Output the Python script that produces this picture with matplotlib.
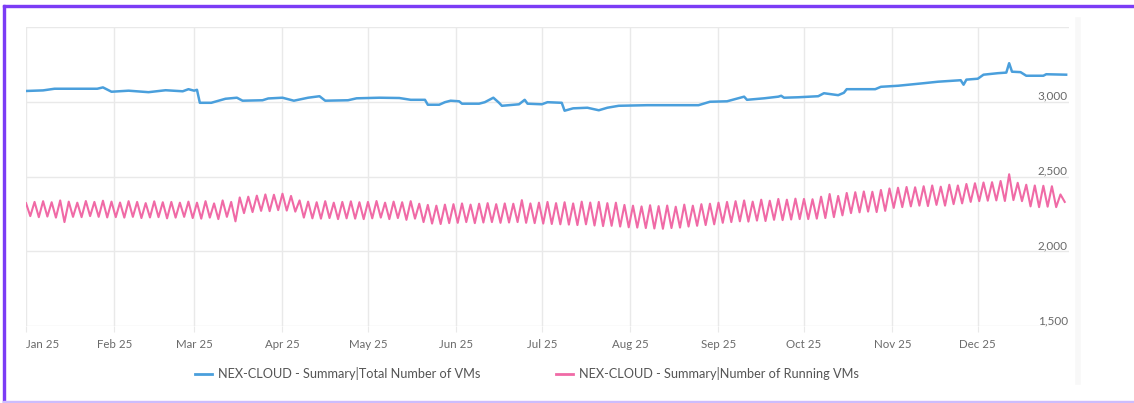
import numpy as np
import pandas as pd
import matplotlib
matplotlib.use('Agg')
import matplotlib.pyplot as plt
import matplotlib.dates as mdates
from matplotlib.patches import Rectangle
from matplotlib.lines import Line2D

plt.rcParams['font.family'] = ['Lato', 'DejaVu Sans']

# Total number of VMs - breakpoints
total_dates = ['2025-01-01', '2025-01-07', '2025-01-11', '2025-01-26', '2025-01-28', '2025-01-31',
               '2025-02-06', '2025-02-13', '2025-02-19', '2025-02-25', '2025-02-27', '2025-03-01',
               '2025-03-02', '2025-03-03', '2025-03-07', '2025-03-12', '2025-03-16', '2025-03-18',
               '2025-03-25', '2025-03-27', '2025-04-01', '2025-04-05', '2025-04-10', '2025-04-14',
               '2025-04-16', '2025-04-24', '2025-04-27', '2025-05-05', '2025-05-12', '2025-05-16',
               '2025-05-21', '2025-05-22', '2025-05-26', '2025-05-28', '2025-05-30', '2025-06-02',
               '2025-06-03', '2025-06-09', '2025-06-11', '2025-06-14', '2025-06-16', '2025-06-17',
               '2025-06-23', '2025-06-25', '2025-06-26', '2025-07-01', '2025-07-03', '2025-07-08',
               '2025-07-09', '2025-07-12', '2025-07-17', '2025-07-21', '2025-07-24', '2025-07-28',
               '2025-08-07', '2025-08-25', '2025-08-29', '2025-09-04', '2025-09-10', '2025-09-11',
               '2025-09-17', '2025-09-22', '2025-09-23', '2025-09-24', '2025-09-29', '2025-10-06',
               '2025-10-08', '2025-10-13', '2025-10-15', '2025-10-16', '2025-10-26', '2025-10-28',
               '2025-11-03', '2025-11-12', '2025-11-17', '2025-11-25', '2025-11-26', '2025-11-27',
               '2025-12-01', '2025-12-03', '2025-12-08', '2025-12-11', '2025-12-12', '2025-12-13',
               '2025-12-16', '2025-12-18', '2025-12-24', '2025-12-25', '2026-01-01']
total_vms = [3072, 3076, 3087, 3087, 3096, 3067,
             3074, 3064, 3077, 3070, 3084, 3074,
             3080, 2993, 2993, 3020, 3027, 3007,
             3010, 3022, 3027, 3007, 3027, 3037,
             3007, 3010, 3023, 3027, 3025, 3013,
             3013, 2980, 2980, 2997, 3007, 3003,
             2987, 2987, 2997, 3027, 2993, 2973,
             2983, 3013, 2987, 2983, 2997, 2993,
             2940, 2956, 2960, 2943, 2960, 2973,
             2977, 2977, 3000, 3003, 3034, 3013,
             3023, 3034, 3040, 3027, 3030, 3037,
             3057, 3044, 3060, 3084, 3084, 3100,
             3107, 3124, 3134, 3144, 3114, 3148,
             3154, 3181, 3191, 3195, 3258, 3201,
             3198, 3174, 3174, 3184, 3181]

# Number of running VMs - peaks and troughs, one of each every 3 days
running_hi = [2322, 2330, 2335, 2328, 2340, 2332, 2325, 2336, 2330, 2338,          # Jan
              2332, 2326, 2335, 2330, 2322, 2334, 2328, 2330, 2325, 2332,          # Feb
              2325, 2335, 2320, 2340, 2330, 2360, 2365, 2372, 2380, 2378,          # Mar
              2385, 2370, 2340, 2332, 2328, 2335, 2325, 2330, 2334, 2328,          # Apr
              2330, 2336, 2325, 2332, 2328, 2335, 2318, 2310, 2305, 2312,          # May
              2315, 2320, 2312, 2318, 2322, 2315, 2320, 2318, 2342, 2320,          # Jun
              2325, 2330, 2322, 2328, 2320, 2332, 2326, 2330, 2322, 2325,          # Jul
              2310, 2305, 2300, 2308, 2302, 2306, 2298, 2312, 2305, 2315, 2318,    # Aug
              2325, 2330, 2335, 2340, 2332, 2345, 2338, 2350, 2345, 2352,          # Sep
              2350, 2348, 2365, 2383, 2370, 2390, 2395, 2400, 2398, 2410,          # Oct
              2420, 2425, 2430, 2428, 2435, 2440, 2432, 2445, 2440, 2450,          # Nov
              2455, 2460, 2462, 2470, 2515, 2458, 2445, 2440, 2438, 2435, 2380]    # Dec
running_lo = [2235, 2228, 2232, 2225, 2195, 2230, 2228, 2235, 2230, 2226,
              2228, 2225, 2230, 2222, 2226, 2228, 2220, 2225, 2230, 2222,
              2218, 2225, 2215, 2230, 2200, 2255, 2262, 2270, 2268, 2275,
              2272, 2265, 2225, 2220, 2218, 2222, 2215, 2220, 2218, 2215,
              2220, 2225, 2215, 2222, 2210, 2218, 2195, 2185, 2182, 2188,
              2190, 2195, 2188, 2192, 2195, 2190, 2192, 2195, 2190, 2188,
              2185, 2182, 2180, 2178, 2175, 2180, 2172, 2168, 2170, 2165,
              2160, 2158, 2155, 2152, 2150, 2155, 2158, 2165, 2170, 2175, 2180,
              2190, 2195, 2200, 2198, 2205, 2202, 2210, 2208, 2212, 2215,
              2215, 2218, 2222, 2228, 2240, 2255, 2260, 2265, 2262, 2270,
              2290, 2295, 2300, 2305, 2302, 2310, 2305, 2315, 2320, 2330,
              2335, 2338, 2340, 2336, 2342, 2335, 2300, 2295, 2298, 2295, 2330]

month_ticks = pd.date_range('2025-01-01', periods=12, freq='MS')
y_ticks = [1500, 2000, 2500, 3000, 3500]
y_labels = ['1,500', '2,000', '2,500', '3,000', '']
legend_labels = ['NEX-CLOUD - Summary|Total Number of VMs',
                 'NEX-CLOUD - Summary|Number of Running VMs']

# interleave peaks and troughs into one series
hi_dates = pd.date_range('2025-01-01', periods=len(running_hi), freq='72h')
lo_dates = hi_dates + pd.Timedelta(hours=36)
running = pd.concat([pd.Series(running_hi, index=hi_dates),
                     pd.Series(running_lo, index=lo_dates)]).sort_index()

blue = '#4a9fdc'
pink = '#f06aa6'
grid_c = '#e9e9e9'
text_c = '#6a6a6a'

fig = plt.figure(figsize=(11.34, 4.03), dpi=100)
W, H = 1134, 403

# outer frame
fig.patches.append(Rectangle((3 / W, 0), 1.5 / W, 1 - 5 / H, transform=fig.transFigure,
                             color='#7b3cf5', zorder=5))
fig.patches.append(Rectangle((3 / W, 1 - 7 / H), 1, 2.2 / H, transform=fig.transFigure,
                             color='#7b3cf5', zorder=5))
fig.patches.append(Rectangle((3 / W, 0), 1, 2.2 / H, transform=fig.transFigure,
                             color='#cdbcfd', zorder=5))
fig.lines.append(Line2D([1078 / W, 1078 / W], [1 - 382 / H, 1 - 20 / H], transform=fig.transFigure,
                        color='#f8f8f8', lw=4))

ax = fig.add_axes([26 / W, 1 - 326 / H, (1069 - 26) / W, (326 - 27) / H])

ax.plot(pd.to_datetime(total_dates), total_vms, color=blue, lw=1.8, zorder=3)
ax.plot(running.index, running.values, color=pink, lw=1.5, zorder=3)

ax.set_ylim(1500, 3500)
ax.set_xlim(pd.Timestamp('2025-01-01'), pd.Timestamp('2026-01-02'))
ax.set_yticks(y_ticks)
ax.tick_params(axis='y', length=0, labelleft=False)
for v, lab in zip(y_ticks, y_labels):
    ax.text(0.999, v, lab, transform=ax.get_yaxis_transform(), ha='right', va='bottom',
            fontsize=8.5, color=text_c)

ax.set_xticks(month_ticks)
ax.xaxis.set_major_formatter(mdates.DateFormatter('%b %y'))
ax.tick_params(axis='x', length=4, color=grid_c, labelsize=8.3, labelcolor=text_c, pad=5)
ax.get_xticklabels()[0].set_ha('left')
ax.grid(True, color=grid_c, lw=1)
for s in ax.spines.values():
    s.set_visible(False)

handles = [Line2D([], [], color=blue, lw=2), Line2D([], [], color=pink, lw=2)]
fig.legend(handles, legend_labels, loc='center', bbox_to_anchor=(527 / W, 1 - 374 / H), ncol=2,
           frameon=False, fontsize=9.2, labelcolor='#555555', handlelength=1.33, handletextpad=0.45,
           columnspacing=5.9)

fig.savefig('out.png', dpi=100)
